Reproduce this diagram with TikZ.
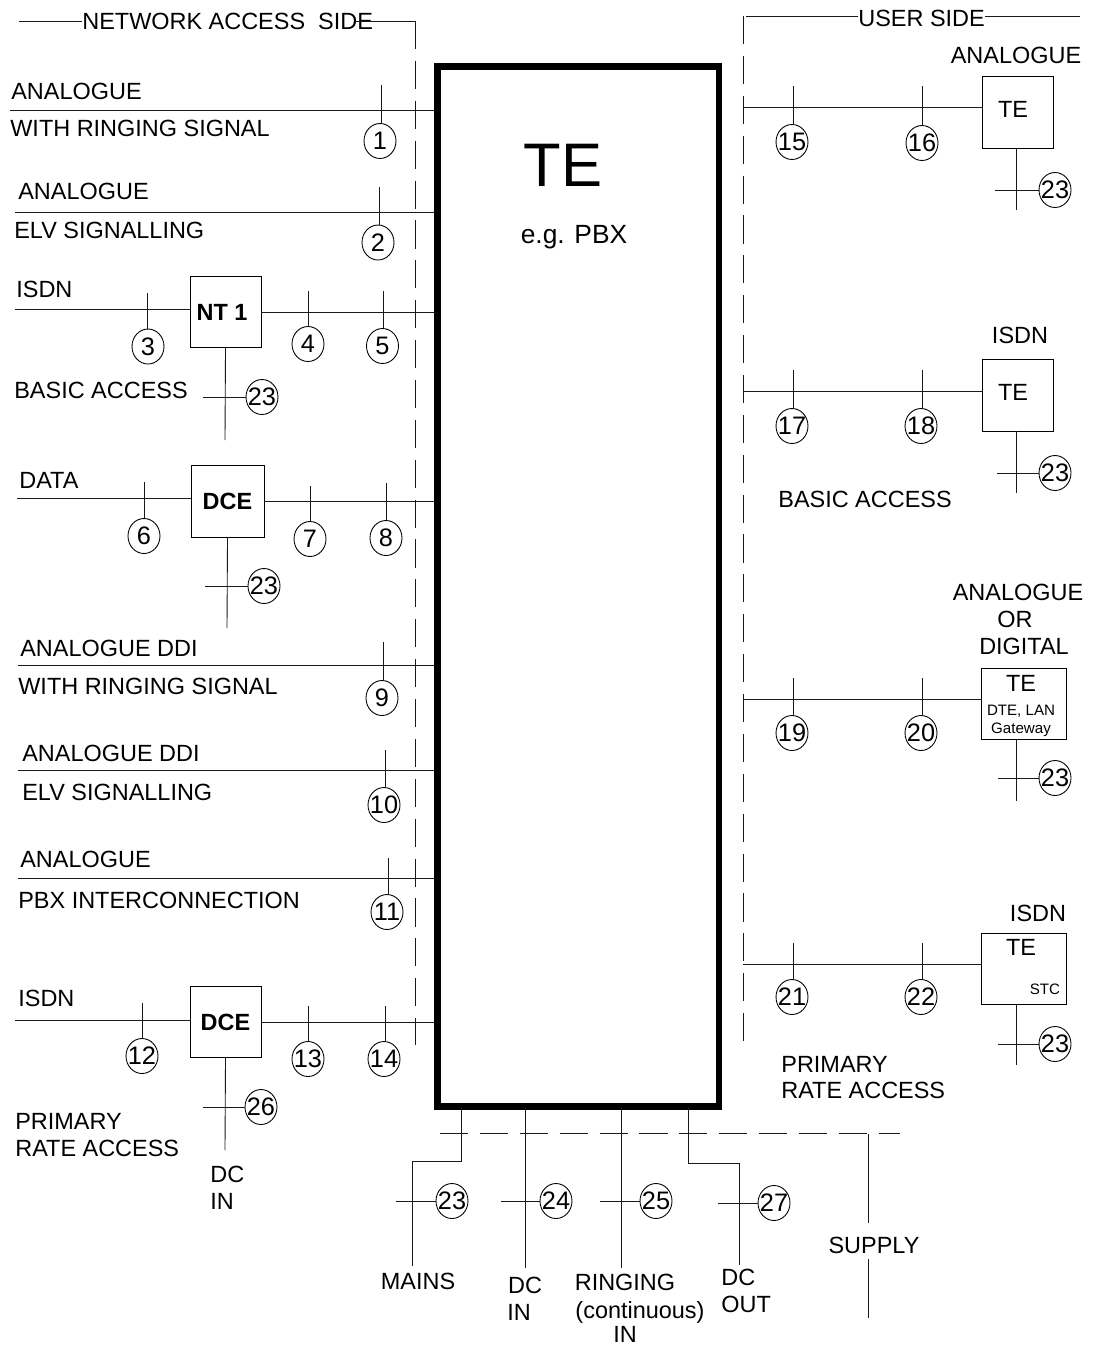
\documentclass[tikz,border=0pt]{standalone}
\usepackage{fontspec}
\setmainfont{Liberation Sans}
\usetikzlibrary{shapes.geometric}
\tikzset{
  wire/.style={black!90,line width=0.5pt},
  cutline/.style={black!90,line width=0.5pt,dash pattern=on 16pt off 6.7pt},
  num/.style={draw,ellipse,fill=white,line width=0.5pt,minimum width=0.64cm,minimum height=0.70cm,
    inner xsep=-5pt,inner ysep=-3pt,font=\fontsize{14.4}{16}\selectfont},
  unit/.style={draw,line width=0.5pt,inner sep=0pt,font=\fontsize{13.35}{15}\selectfont\bfseries},
  termbox/.style={draw,line width=0.5pt,inner sep=0pt},
  lbl/.style={anchor=west,inner sep=0pt,font=\fontsize{13.35}{15}\selectfont},
  mid/.style={inner sep=0pt,font=\fontsize{13.35}{15}\selectfont},
  tiny/.style={inner sep=0pt,font=\fontsize{8.6}{10}\selectfont}
}
\begin{document}
\begin{tikzpicture}[x=0.02cm,y=-0.02cm,line cap=butt]
  \useasboundingbox (0,0) rectangle (1092,1345);

  % main unit
  \node[draw,line width=3.8pt,inner sep=0pt,minimum width=5.63cm,minimum height=20.8cm] (M) at (578.3,586.6) {};
  \node[inner sep=0pt,font=\fontsize{35}{38}\selectfont] (TEmain) at (563,165) {TE};
  \node[inner sep=0pt,font=\fontsize{15}{17}\selectfont] (PBX) at (574,237) {e.g. PBX};

  % side headers
  \node[lbl] (HN) at (82,21) {NETWORK ACCESS\ \ SIDE};
  \node[lbl] (HU) at (858,18) {USER SIDE};
  \coordinate (HNa) at (19,21);
  \coordinate (HNb) at (355,21);
  \coordinate (HNc) at (415,21);
  \coordinate (HUa) at (746,16);
  \coordinate (HUb) at (1080,16);
  \draw[wire] (HNa) -- (HN.west |- HNa);
  \draw[wire] (HNb) -- (HNc);
  \draw[wire] (HUa) -- (HU.west |- HUa);
  \draw[wire] (HU.east |- HUb) -- (HUb);
  \coordinate (CNb) at (415,1045);
  \coordinate (CUa) at (743,16);
  \coordinate (CUb) at (743,1045);
  \coordinate (CSa) at (440,1133);
  \coordinate (CSb) at (900,1133);
  \draw[cutline] (HNc) -- (CNb);
  \draw[cutline] (CUa) -- (CUb);
  \draw[cutline] (CSa) -- (CSb);

  % 1, 2
  \node[lbl] (a1) at (11,91) {ANALOGUE};
  \node[lbl] (a2) at (10,128) {WITH RINGING SIGNAL};
  \coordinate (L1) at (10,110);
  \draw[wire] (L1) -- (L1 -| M.west);
  \node[num] (C1) at (380,141) {1};
  \coordinate (T1) at (381,85);
  \draw[wire] (T1) -- (T1 |- C1.north);
  \node[lbl] (b1) at (18,191) {ANALOGUE};
  \node[lbl] (b2) at (14,230) {ELV SIGNALLING};
  \coordinate (L2) at (15,212);
  \draw[wire] (L2) -- (L2 -| M.west);
  \node[num] (C2) at (378,242.5) {2};
  \coordinate (T2) at (379.5,187);
  \draw[wire] (T2) -- (T2 |- C2.north);

  % 3, 4, 5 with NT 1
  \node[lbl] (c1) at (16,289) {ISDN};
  \node[lbl] (c2) at (14,390) {BASIC ACCESS};
  \node[unit,minimum width=1.42cm,minimum height=1.42cm] (NT) at (225.5,312) {NT 1\hspace*{4pt}};
  \coordinate (L3) at (15,309.5);
  \draw[wire] (L3) -- (NT.west |- L3);
  \draw[wire] (NT.east) -- (NT -| M.west);
  \node[num] (C3) at (148,346.5) {3};
  \coordinate (T3) at (147.5,293);
  \draw[wire] (T3) -- (T3 |- C3.north);
  \node[num] (C4) at (308,344) {4};
  \coordinate (T4) at (308,291);
  \draw[wire] (T4) -- (T4 |- C4.north);
  \node[num] (C5) at (382.5,346) {5};
  \coordinate (T5) at (383,291);
  \draw[wire] (T5) -- (T5 |- C5.north);
  \coordinate (SNT) at (225,440);
  \draw[wire] (NT.south) -- (SNT);
  \node[num] (Ca) at (262,397) {23};
  \coordinate (Ta) at (203,397);
  \draw[wire] (Ta) -- (Ca);

  % 6, 7, 8 with DCE
  \node[lbl] (d1) at (19,480) {DATA};
  \node[unit,minimum width=1.46cm,minimum height=1.44cm] (DCEa) at (227.5,501) {DCE};
  \coordinate (L6) at (17,498);
  \draw[wire] (L6) -- (DCEa.west |- L6);
  \draw[wire] (DCEa.east) -- (DCEa -| M.west);
  \node[num] (C6) at (144,536) {6};
  \coordinate (T6) at (144,482);
  \draw[wire] (T6) -- (T6 |- C6.north);
  \node[num] (C7) at (310,539) {7};
  \coordinate (T7) at (310,486);
  \draw[wire] (T7) -- (T7 |- C7.north);
  \node[num] (C8) at (386,538) {8};
  \coordinate (T8) at (386,483);
  \draw[wire] (T8) -- (T8 |- C8.north);
  \coordinate (SDa) at (227,628);
  \draw[wire] (DCEa.south) -- (SDa);
  \node[num] (Cb) at (264,586) {23};
  \coordinate (Tb) at (205,586);
  \draw[wire] (Tb) -- (Cb);

  % 9, 10, 11
  \node[lbl] (e1) at (20,648) {ANALOGUE DDI};
  \node[lbl] (e2) at (18,686) {WITH RINGING SIGNAL};
  \coordinate (L9) at (18,665);
  \draw[wire] (L9) -- (L9 -| M.west);
  \node[num] (C9) at (382,698) {9};
  \coordinate (T9) at (383,642);
  \draw[wire] (T9) -- (T9 |- C9.north);
  \node[lbl] (f1) at (22,753) {ANALOGUE DDI};
  \node[lbl] (f2) at (22,792) {ELV SIGNALLING};
  \coordinate (L10) at (18,770);
  \draw[wire] (L10) -- (L10 -| M.west);
  \node[num] (C10) at (384,805) {10};
  \coordinate (T10) at (385,750);
  \draw[wire] (T10) -- (T10 |- C10.north);
  \node[lbl] (g1) at (20,859) {ANALOGUE};
  \node[lbl] (g2) at (18,900) {PBX INTERCONNECTION};
  \coordinate (L11) at (18,878);
  \draw[wire] (L11) -- (L11 -| M.west);
  \node[num] (C11) at (387,912) {11};
  \coordinate (T11) at (388,858);
  \draw[wire] (T11) -- (T11 |- C11.north);

  % 12, 13, 14 with DCE
  \node[lbl] (h1) at (18,998) {ISDN};
  \node[lbl] (h2) at (15,1121) {PRIMARY};
  \node[lbl] (h3) at (15,1148) {RATE ACCESS};
  \node[lbl] (h4) at (210,1174) {DC};
  \node[lbl] (h5) at (210,1201) {IN};
  \node[unit,minimum width=1.42cm,minimum height=1.42cm] (DCEb) at (225.5,1022) {DCE};
  \coordinate (L12) at (15,1020);
  \draw[wire] (L12) -- (DCEb.west |- L12);
  \draw[wire] (DCEb.east) -- (DCEb -| M.west);
  \node[num] (C12) at (142,1056) {12};
  \coordinate (T12) at (142,1003);
  \draw[wire] (T12) -- (T12 |- C12.north);
  \node[num] (C13) at (308,1059) {13};
  \coordinate (T13) at (308,1006);
  \draw[wire] (T13) -- (T13 |- C13.north);
  \node[num] (C14) at (384,1059) {14};
  \coordinate (T14) at (385,1006);
  \draw[wire] (T14) -- (T14 |- C14.north);
  \coordinate (SDb) at (225,1150);
  \draw[wire] (DCEb.south) -- (SDb);
  \node[num] (Cc) at (261,1107) {26};
  \coordinate (Tc) at (203,1107);
  \draw[wire] (Tc) -- (Cc);

  % user side, 15, 16
  \node[mid] (i1) at (1016,55) {ANALOGUE};
  \node[termbox,minimum width=1.42cm,minimum height=1.44cm] (TEa) at (1017.5,112) {};
  \node[mid] (i2) at (1013,109) {TE};
  \coordinate (L15) at (743,107);
  \draw[wire] (L15) -- (TEa.west |- L15);
  \node[num] (C15) at (792,142) {15};
  \coordinate (T15) at (793,86);
  \draw[wire] (T15) -- (T15 |- C15.north);
  \node[num] (C16) at (922,143) {16};
  \coordinate (T16) at (922,86);
  \draw[wire] (T16) -- (T16 |- C16.north);
  \coordinate (STa) at (1016,210);
  \draw[wire] (TEa.south -| STa) -- (STa);
  \node[num] (Cd) at (1055,190) {23};
  \coordinate (Td) at (995,190);
  \draw[wire] (Td) -- (Cd);

  % 17, 18
  \node[mid] (j1) at (1020,335) {ISDN};
  \node[lbl] (j2) at (778,499) {BASIC ACCESS};
  \node[termbox,minimum width=1.42cm,minimum height=1.44cm] (TEb) at (1017.5,395) {};
  \node[mid] (j3) at (1013,392) {TE};
  \coordinate (L17) at (743,391);
  \draw[wire] (L17) -- (TEb.west |- L17);
  \node[num] (C17) at (792,426) {17};
  \coordinate (T17) at (793,370);
  \draw[wire] (T17) -- (T17 |- C17.north);
  \node[num] (C18) at (921,426) {18};
  \coordinate (T18) at (922,370);
  \draw[wire] (T18) -- (T18 |- C18.north);
  \coordinate (STb) at (1016,493);
  \draw[wire] (TEb.south -| STb) -- (STb);
  \node[num] (Ce) at (1055,473) {23};
  \coordinate (Te) at (997,473);
  \draw[wire] (Te) -- (Ce);

  % 19, 20
  \node[mid] (k1) at (1018,592) {ANALOGUE};
  \node[mid] (k2) at (1015,619) {OR};
  \node[mid] (k3) at (1024,646) {DIGITAL};
  \node[termbox,minimum width=1.70cm,minimum height=1.42cm] (TEc) at (1024,703.5) {};
  \node[mid] (k4) at (1021,683) {TE};
  \node[tiny] (k5) at (1021,711) {DTE, LAN};
  \node[tiny] (k6) at (1021,729.5) {Gateway};
  \coordinate (L19) at (743,699);
  \draw[wire] (L19) -- (TEc.west |- L19);
  \node[num] (C19) at (792,733) {19};
  \coordinate (T19) at (793,678);
  \draw[wire] (T19) -- (T19 |- C19.north);
  \node[num] (C20) at (921,733) {20};
  \coordinate (T20) at (922,678);
  \draw[wire] (T20) -- (T20 |- C20.north);
  \coordinate (STc) at (1016,801);
  \draw[wire] (TEc.south -| STc) -- (STc);
  \node[num] (Cf) at (1055,778) {23};
  \coordinate (Tf) at (998,778);
  \draw[wire] (Tf) -- (Cf);

  % 21, 22
  \node[mid] (l1) at (1038,913) {ISDN};
  \node[termbox,minimum width=1.70cm,minimum height=1.42cm] (TEd) at (1024,968.5) {};
  \node[mid] (l2) at (1021,947) {TE};
  \node[tiny] (l3) at (1045,989) {STC};
  \node[lbl] (l4) at (781,1064) {PRIMARY};
  \node[lbl] (l5) at (781,1090) {RATE ACCESS};
  \coordinate (L21) at (743,964);
  \draw[wire] (L21) -- (TEd.west |- L21);
  \node[num] (C21) at (792,997) {21};
  \coordinate (T21) at (793,943);
  \draw[wire] (T21) -- (T21 |- C21.north);
  \node[num] (C22) at (921,997) {22};
  \coordinate (T22) at (922,943);
  \draw[wire] (T22) -- (T22 |- C22.north);
  \coordinate (STd) at (1016,1065);
  \draw[wire] (TEd.south -| STd) -- (STd);
  \node[num] (Cg) at (1055,1044) {23};
  \coordinate (Tg) at (998,1044);
  \draw[wire] (Tg) -- (Cg);

  % supply
  \coordinate (Pa) at (461,1107);
  \coordinate (Pb) at (412,1266);
  \draw[wire] (Pa) -- (461,1161) -- (412,1161) -- (Pb);
  \node[num] (Ch) at (452,1201) {23};
  \coordinate (Th) at (396,1201);
  \draw[wire] (Th) -- (Ch);
  \node[mid] (m1) at (418,1281) {MAINS};

  \coordinate (Qa) at (525,1107);
  \coordinate (Qb) at (525,1268);
  \draw[wire] (Qa) -- (Qb);
  \node[num] (Ci) at (556,1201) {24};
  \coordinate (Ti) at (501,1201);
  \draw[wire] (Ti) -- (Ci);
  \node[mid] (n1) at (525,1285) {DC};
  \node[mid] (n2) at (519,1312) {IN};

  \coordinate (Ra) at (621,1107);
  \coordinate (Rb) at (621,1268);
  \draw[wire] (Ra) -- (Rb);
  \node[num] (Cj) at (656,1201) {25};
  \coordinate (Tj) at (600,1201);
  \draw[wire] (Tj) -- (Cj);
  \node[mid] (o1) at (625,1282) {RINGING};
  \node[mid] (o2) at (640,1312) {(continuous)};
  \node[mid] (o3) at (625,1334) {IN};

  \coordinate (Sa) at (688,1107);
  \coordinate (Sb) at (739,1265);
  \draw[wire] (Sa) -- (688,1163) -- (739,1163) -- (Sb);
  \node[num] (Ck) at (774,1203) {27};
  \coordinate (Tk) at (718,1203);
  \draw[wire] (Tk) -- (Ck);
  \node[lbl] (p1) at (721,1277) {DC};
  \node[lbl] (p2) at (721,1304) {OUT};

  \node[mid] (SUP) at (874,1245) {SUPPLY};
  \coordinate (Ua) at (868,1134);
  \coordinate (Ub) at (868,1223);
  \coordinate (Uc) at (868,1259);
  \coordinate (Ud) at (868,1318);
  \draw[wire] (Ua) -- (Ub);
  \draw[wire] (Uc) -- (Ud);
\end{tikzpicture}
\end{document}
